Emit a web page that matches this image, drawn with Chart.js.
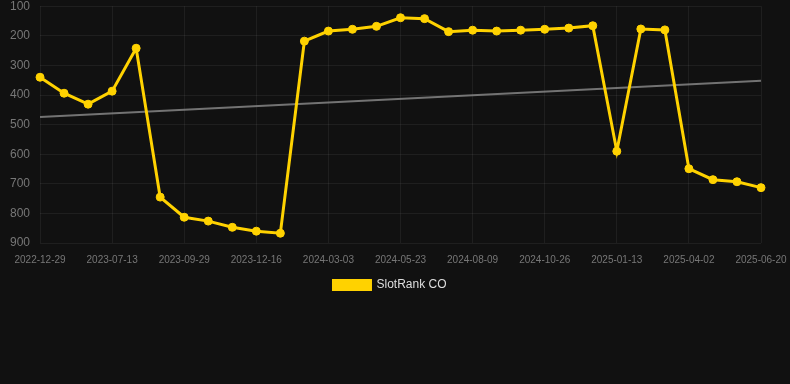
<!DOCTYPE html>
<html>
<head>
<meta charset="utf-8">
<script src="https://cdn.jsdelivr.net/npm/chart.js@4/dist/chart.umd.min.js"></script>
<style>
  html, body { margin: 0; padding: 0; background: #111111; overflow: hidden; }
  #wrap { width: 806px; height: 312px; position: relative; top: -11px; left: -16px; }
</style>
</head>
<body>
<div id="wrap"><canvas id="rankChart"></canvas></div>
<script>
// dates, one per sample (only every third is shown on the axis)
var dateLabels = [
	'2022-12-29', '2023-03-06', '2023-05-10',
	'2023-07-13', '2023-08-08', '2023-09-03',
	'2023-09-29', '2023-10-25', '2023-11-20',
	'2023-12-16', '2024-01-11', '2024-02-06',
	'2024-03-03', '2024-03-30', '2024-04-26',
	'2024-05-23', '2024-06-18', '2024-07-14',
	'2024-08-09', '2024-09-04', '2024-09-30',
	'2024-10-26', '2024-11-21', '2024-12-18',
	'2025-01-13', '2025-02-08', '2025-03-07',
	'2025-04-02', '2025-04-28', '2025-05-24',
	'2025-06-20'
];

// rank values
var slotRank = [
	340, 394, 431, 387, 242, 745, 813, 826, 847, 860, 867,
	218, 184, 178, 168, 139, 142, 186, 181, 184, 181, 178, 174, 166,
	590, 177, 180, 649, 686, 693, 713
];

// trend line, only its two ends
var trendStart = 474;
var trendEnd = 352;

var trendValues = [];
for(let i = 0; i < dateLabels.length; i++)
	trendValues.push(null);
trendValues[0] = trendStart;
trendValues[dateLabels.length - 1] = trendEnd;

var gold = 'rgb(255, 210, 0)';
var fontFamily = 'Arial, "Liberation Sans", sans-serif';

new Chart(document.getElementById('rankChart'), {
	type: 'line',
	data: {
		labels: dateLabels,
		datasets: [
			{
				label: 'SlotRank CO',
				data: slotRank,
				borderColor: gold,
				backgroundColor: gold,
				borderWidth: 3,
				pointRadius: 4,
				pointBorderWidth: 1,
				pointHoverRadius: 4,
				tension: 0,
				fill: false
			},
			{
				label: 'trend',
				data: trendValues,
				borderColor: 'rgba(140, 140, 140, 0.8)',
				borderWidth: 2,
				pointRadius: 0,
				spanGaps: true,
				fill: false
			}
		]
	},
	options: {
		responsive: true,
		maintainAspectRatio: false,
		animation: false,
		layout: { autoPadding: false, padding: { left: 16, right: 10, top: 0, bottom: 0 } },
		plugins: {
			legend: {
				position: 'bottom',
				labels: {
					color: '#dddddd',
					boxWidth: 37,
					boxHeight: 9,
					padding: 2,
					font: { family: fontFamily, size: 12 },
					filter: function(item) { return item.text !== 'trend'; }
				}
			},
			tooltip: { enabled: false }
		},
		scales: {
			x: {
				grid: { color: 'rgba(255,255,255,0.06)', drawTicks: false },
				border: { display: false },
				afterFit: function(scale) {
					// room on the right for the last date label
					scale.paddingRight = 29;
				},
				ticks: {
					color: '#777777',
					maxRotation: 0,
					autoSkip: false,
					padding: 11,
					font: { family: fontFamily, size: 10 },
					callback: function(value, index) {
						return index % 3 === 0 ? dateLabels[index] : null;
					}
				}
			},
			y: {
				reverse: true,
				min: 100,
				max: 900,
				grid: { color: 'rgba(255,255,255,0.06)', drawTicks: false },
				border: { display: false },
				ticks: {
					color: '#777777',
					stepSize: 100,
					padding: 10,
					font: { family: fontFamily, size: 12 }
				}
			}
		}
	}
});
</script>
</body>
</html>
